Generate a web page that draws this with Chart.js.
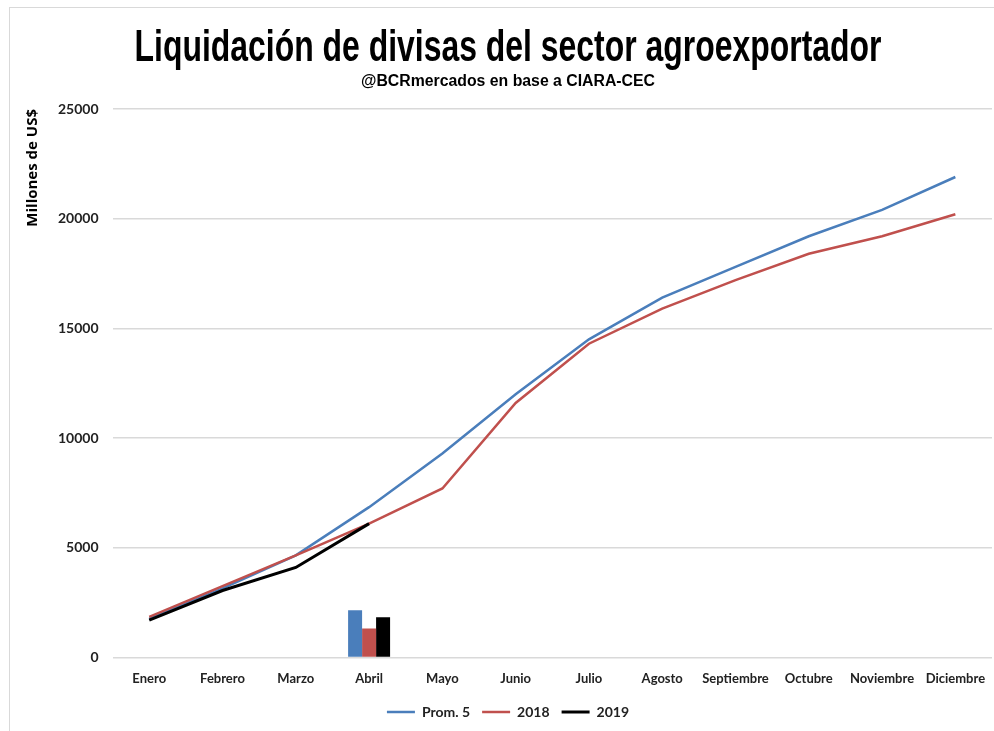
<!DOCTYPE html>
<html>
<head>
<meta charset="utf-8">
<script src="https://cdn.jsdelivr.net/npm/chart.js@4.4.1/dist/chart.umd.min.js"></script>
<style>
  html, body { margin: 0; padding: 0; background: #fff; overflow: hidden; }
  #frame {
    position: absolute; left: 9px; top: 7px; width: 1000px; height: 740px;
    border-left: 1px solid #d9d9d9; border-top: 1px solid #d9d9d9;
  }
  #wrap { position: absolute; left: 0; top: 0; width: 996px; height: 724px; }
</style>
</head>
<body>
<div id="frame"><div id="wrap"><canvas id="chart"></canvas></div></div>
<script>
// Accumulated liquidation, millions of US$
const months = ['Enero', 'Febrero', 'Marzo', 'Abril', 'Mayo', 'Junio', 'Julio', 'Agosto', 'Septiembre', 'Octubre', 'Noviembre', 'Diciembre'];
const prom5 = [1750, 3150, 4650, 6850, 9300, 12000, 14500, 16400, 17800, 19200, 20400, 21900];
const y2018 = [1850, 3250, 4650, 6100, 7700, 11600, 14300, 15900, 17200, 18400, 19200, 20200];
const y2019 = [1700, 3050, 4100, 6100];

// April monthly values (small bars)
const abrilProm5 = [null, null, null, 2150];
const abril2018 = [null, null, null, 1320];
const abril2019 = [null, null, null, 1830];

const yTicks = [0, 5000, 10000, 15000, 20000, 25000];

const titleText = 'Liquidación de divisas del sector agroexportador';
const subtitleText = '@BCRmercados en base a CIARA-CEC';

const BLUE = '#4a7ebb';
const RED = '#c0504d';
const BLACK = '#000000';
const labelFont = 'Lato, sans-serif';

// no condensed font installed, so squeeze the text horizontally
function drawNarrow(c, text, font, width, cx, baseline) {
    c.save();
    c.font = font;
    const w = c.measureText(text).width;
    c.translate(cx, baseline);
    c.scale(width / w, 1);
    c.textAlign = 'center';
    c.textBaseline = 'alphabetic';
    c.fillStyle = '#000';
    c.fillText(text, 0, 0);
    c.restore();
}

const headerPlugin = {
    id: 'header',
    afterDraw(chart) {
        const c = chart.ctx;
        const cx = chart.width / 2;
        drawNarrow(c, titleText, "bold 44px 'Liberation Sans', Arial, sans-serif", 747, cx, 53);
        drawNarrow(c, subtitleText, "bold 16px 'Liberation Sans', Arial, sans-serif", 294, cx, 78);
    }
};

const ctx = document.getElementById('chart');

new Chart(ctx, {
    type: 'line',
    data: {
        labels: months,
        datasets: [
            { label: 'Prom. 5', data: prom5, borderColor: BLUE, backgroundColor: BLUE, borderWidth: 2.5, pointRadius: 0, tension: 0, order: 2 },
            { label: '2018', data: y2018, borderColor: RED, backgroundColor: RED, borderWidth: 2.5, pointRadius: 0, tension: 0, order: 1 },
            { label: '2019', data: y2019, borderColor: BLACK, backgroundColor: BLACK, borderWidth: 3, pointRadius: 0, tension: 0, order: 0 },
            { type: 'bar', label: 'Abril Prom. 5', data: abrilProm5, backgroundColor: BLUE, categoryPercentage: 0.573, barPercentage: 1, order: 3 },
            { type: 'bar', label: 'Abril 2018', data: abril2018, backgroundColor: RED, categoryPercentage: 0.573, barPercentage: 1, order: 3 },
            { type: 'bar', label: 'Abril 2019', data: abril2019, backgroundColor: BLACK, categoryPercentage: 0.573, barPercentage: 1, order: 3 }
        ]
    },
    options: {
        responsive: true,
        maintainAspectRatio: false,
        animation: false,
        layout: { padding: { left: 14, right: 14, top: 101, bottom: 3 } },
        plugins: {
            title: { display: false },
            legend: {
                position: 'bottom',
                reverse: true,
                labels: {
                    filter: (item, data) => data.datasets[item.datasetIndex].type !== 'bar',
                    usePointStyle: true,
                    pointStyle: 'line',
                    pointStyleWidth: 28,
                    color: '#222',
                    font: { family: labelFont, size: 14, weight: 'bold' },
                    padding: 12
                }
            },
            tooltip: { enabled: false }
        },
        scales: {
            x: {
                offset: true,
                grid: { display: false },
                border: { display: false },
                ticks: {
                    color: '#222',
                    maxRotation: 0,
                    autoSkip: false,
                    padding: 6,
                    font: { family: labelFont, size: 13, weight: 'bold' }
                }
            },
            y: {
                min: 0,
                max: 25000,
                afterBuildTicks: (axis) => { axis.ticks = yTicks.map(v => ({ value: v })); },
                grid: { color: '#d9d9d9', lineWidth: 1.5, drawTicks: false },
                border: { display: false },
                ticks: {
                    color: '#222',
                    padding: 14,
                    callback: (v) => String(v),
                    font: { family: labelFont, size: 14, weight: 'bold' }
                },
                title: {
                    display: true,
                    text: 'Millones de US$',
                    align: 'end',
                    color: '#000',
                    font: { family: "'Open Sans', sans-serif", size: 15, weight: 'bold' },
                    padding: { top: 0, bottom: 2 }
                }
            }
        }
    },
    plugins: [headerPlugin]
});
</script>
</body>
</html>
